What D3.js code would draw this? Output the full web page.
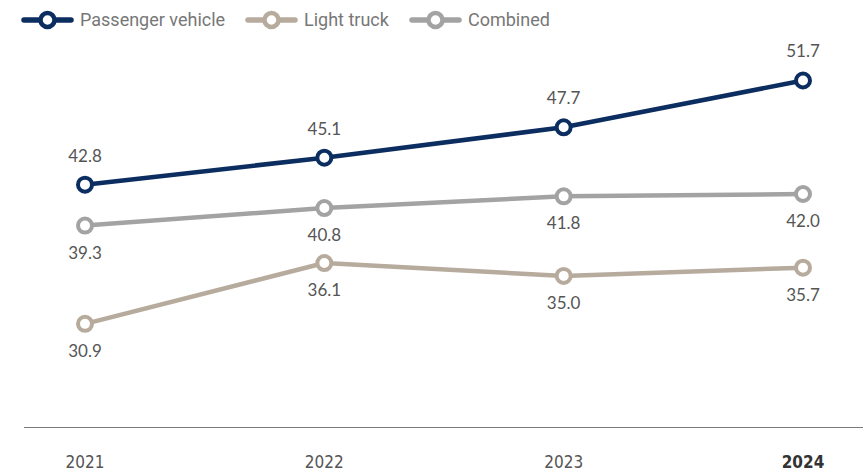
<!DOCTYPE html>
<html><head><meta charset="utf-8">
<script src="https://cdn.jsdelivr.net/npm/d3@7"></script>
<style>
html,body{margin:0;padding:0;background:#fff;}
svg{display:block;}
</style></head>
<body>
<svg id="chart" width="863" height="474"></svg>
<script>
const years = ["2021", "2022", "2023", "2024"];
const passengerVehicle = [42.8, 45.1, 47.7, 51.7];
const lightTruck = [30.9, 36.1, 35.0, 35.7];
const combined = [39.3, 40.8, 41.8, 42.0];
const seriesNames = ["Passenger vehicle", "Light truck", "Combined"];
const seriesColors = ["#0b2d5f", "#b7ab9d", "#a3a3a3"];
const labelSide = ["above", "below", "below"];

const series = [passengerVehicle, lightTruck, combined].map((vals, i) => ({
  name: seriesNames[i], color: seriesColors[i], side: labelSide[i],
  values: vals.map((v, j) => ({year: years[j], value: v}))
}));

const svg = d3.select("#chart");
const x = d3.scalePoint().domain(years).range([85, 803]);
const y = d3.scaleLinear().domain([22, 52]).range([428, 77]);

// baseline axis
svg.append("line").attr("x1", 24).attr("x2", 863).attr("y1", 427.5).attr("y2", 427.5)
  .attr("stroke", "#7a7a7a").attr("stroke-width", 1.2);

const xAxis = svg.append("g").attr("transform", "translate(0,462)");
xAxis.selectAll("text").data(years).join("text")
  .attr("x", d => x(d)).attr("y", 0).attr("dy", "0.35em")
  .attr("text-anchor", "middle")
  .attr("font-family", "'Liberation Sans Narrow','DejaVu Sans Condensed',sans-serif")
  .attr("font-size", 17)
  .attr("font-weight", (d, i) => i === years.length - 1 ? "bold" : "normal")
  .attr("fill", (d, i) => i === years.length - 1 ? "#333" : "#555")
  .text(d => d);

// draw order: combined, light truck, passenger on top
const order = [2, 1, 0];
const line = d3.line().x(d => x(d.year)).y(d => y(d.value));
order.forEach(i => {
  const s = series[i];
  const g = svg.append("g");
  g.append("path").datum(s.values).attr("d", line)
    .attr("fill", "none").attr("stroke", s.color).attr("stroke-width", 4.5)
    .attr("stroke-linejoin", "round");
  g.selectAll("circle").data(s.values).join("circle")
    .attr("cx", d => x(d.year)).attr("cy", d => y(d.value)).attr("r", 7)
    .attr("fill", "#fff").attr("stroke", s.color).attr("stroke-width", 4);
  g.selectAll("text").data(s.values).join("text")
    .attr("x", d => x(d.year))
    .attr("y", d => y(d.value) + (s.side === "above" ? -29 : 27))
    .attr("dy", "0.35em").attr("text-anchor", "middle")
    .attr("font-family", "Lato, sans-serif").attr("font-size", 17)
    .attr("fill", "#555")
    .text(d => d.value.toFixed(1));
});

// legend
const legendX = [24, 248, 412];
const legend = svg.append("g");
series.forEach((s, i) => {
  const g = legend.append("g").attr("transform", `translate(${legendX[i]},20)`);
  g.append("line").attr("x1", 0).attr("x2", 47).attr("y1", 0).attr("y2", 0)
    .attr("stroke", s.color).attr("stroke-width", 5.5).attr("stroke-linecap", "round");
  g.append("circle").attr("cx", 23.5).attr("cy", 0).attr("r", 7)
    .attr("fill", "#fff").attr("stroke", s.color).attr("stroke-width", 4.5);
  g.append("text").attr("x", 56).attr("y", 0).attr("dy", "0.35em")
    .attr("font-family", "Roboto, sans-serif").attr("font-size", 18)
    .attr("fill", "#777").text(s.name);
});
</script>
</body></html>
